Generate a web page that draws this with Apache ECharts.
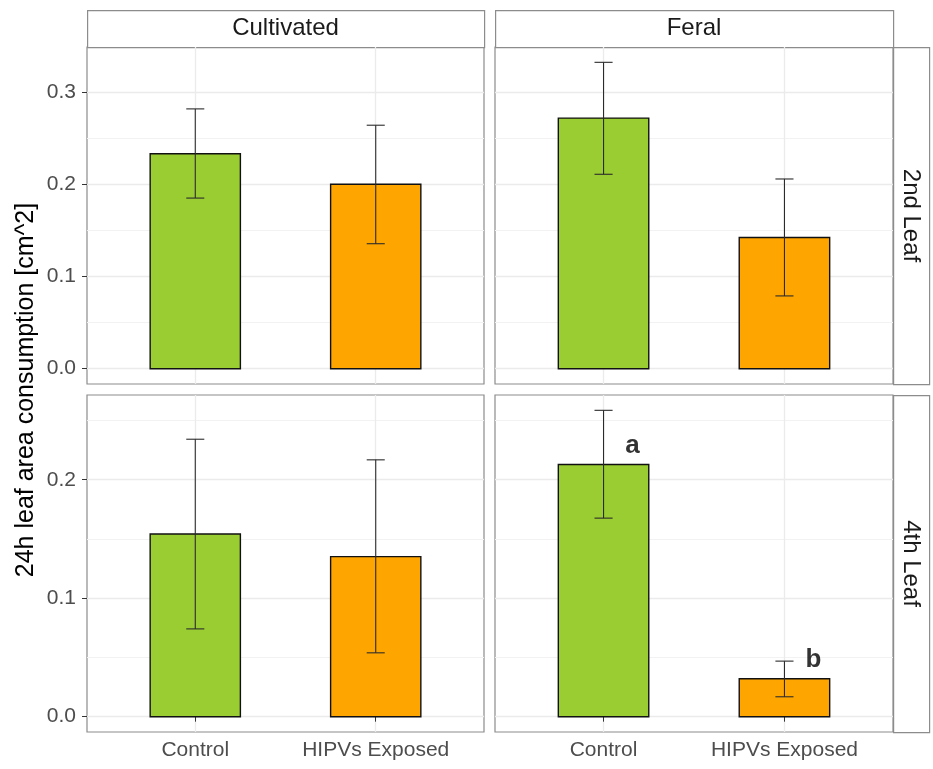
<!DOCTYPE html>
<html>
<head>
<meta charset="utf-8">
<script src="https://cdn.jsdelivr.net/npm/echarts@6/dist/echarts.min.js"></script>
<style>
  html, body { margin: 0; padding: 0; background: #ffffff; }
  #chart { width: 933px; height: 769px; }
</style>
</head>
<body>
<div id="chart"></div>
<script>
// Treatments along the x axis of every panel
const categories = ['Control', 'HIPVs Exposed'];
const origins = ['Cultivated', 'Feral'];
const leaves = ['2nd Leaf', '4th Leaf'];
const yTitle = '24h leaf area consumption [cm^2]';

// Mean consumption and error bar limits per panel (cm^2)
const meanCult2 = [0.233, 0.200];
const lowCult2 = [0.185, 0.1355];
const highCult2 = [0.2817, 0.264];

const meanFeral2 = [0.2717, 0.1423];
const lowFeral2 = [0.2108, 0.0789];
const highFeral2 = [0.3322, 0.2057];

const meanCult4 = [0.1542, 0.1351];
const lowCult4 = [0.0741, 0.0539];
const highCult4 = [0.2342, 0.2168];

const meanFeral4 = [0.2129, 0.032];
const lowFeral4 = [0.1676, 0.0168];
const highFeral4 = [0.2586, 0.0469];

// Significance letters in the Feral / 4th Leaf panel
const letters = ['a', 'b'];
const letterY = [0.229, 0.048];

const majorTicks = [0, 0.1, 0.2, 0.3];
const minorTicks = [0.05, 0.15, 0.25];

const barColors = ['#9acd32', '#ffa500'];
const FONT = '"Liberation Sans", Arial, Helvetica, sans-serif';

// Panels in row-major order
const panels = [
  { mean: meanCult2, low: lowCult2, high: highCult2, col: 0, row: 0 },
  { mean: meanFeral2, low: lowFeral2, high: highFeral2, col: 1, row: 0 },
  { mean: meanCult4, low: lowCult4, high: highCult4, col: 0, row: 1 },
  { mean: meanFeral4, low: lowFeral4, high: highFeral4, col: 1, row: 1 }
];

// Shared y range per row: 0 .. max upper limit, padded 5% on each side
function rowRange(row) {
  let mx = 0;
  panels.filter(p => p.row === row).forEach(p => p.high.forEach(v => { mx = Math.max(mx, v); }));
  const pad = mx * 0.05;
  return [-pad, mx + pad];
}
const ranges = [rowRange(0), rowRange(1)];

// Panel geometry
const colLeft = [87, 495];
const colWidth = [397, 398];
const rowTop = [47, 395];
const rowHeight = [337, 337];

const grids = [], xAxes = [], yAxes = [], series = [];

panels.forEach((p, i) => {
  grids.push({
    left: colLeft[p.col], top: rowTop[p.row],
    width: colWidth[p.col], height: rowHeight[p.row],
    show: true, borderColor: '#8c8c8c', borderWidth: 1.2,
    backgroundColor: 'transparent', containLabel: false
  });
  const bottomRow = p.row === 1;
  xAxes.push({
    type: 'value', gridIndex: i, min: 0.4, max: 2.6,
    axisLine: { show: false },
    axisTick: {
      show: bottomRow, customValues: [1, 2], length: 5,
      lineStyle: { color: '#333333', width: 1 }
    },
    axisLabel: {
      show: bottomRow, customValues: [1, 2], margin: 8,
      formatter: v => categories[Math.round(v) - 1],
      color: '#4d4d4d', fontSize: 21, fontFamily: FONT
    },
    splitLine: { show: true, lineStyle: { color: '#ebebeb', width: 1.3 } }
  });
  const [ymin, ymax] = ranges[p.row];
  const leftCol = p.col === 0;
  // major grid + labels
  yAxes.push({
    type: 'value', gridIndex: i, min: ymin, max: ymax,
    axisLine: { show: false },
    axisTick: {
      show: leftCol, customValues: majorTicks, length: 5,
      lineStyle: { color: '#333333', width: 1 }
    },
    axisLabel: {
      show: leftCol, customValues: majorTicks, margin: 11,
      formatter: v => v.toFixed(1),
      color: '#4d4d4d', fontSize: 21, fontFamily: FONT
    },
    splitLine: { show: true, lineStyle: { color: '#ebebeb', width: 1.3 } }
  });
  // minor grid
  yAxes.push({
    type: 'value', gridIndex: i, min: ymin, max: ymax,
    axisLine: { show: false },
    axisTick: { show: false, customValues: minorTicks },
    axisLabel: { show: false, customValues: minorTicks },
    splitLine: { show: true, lineStyle: { color: '#f2f2f2', width: 1 } }
  });

  // bars
  series.push({
    type: 'custom', xAxisIndex: i, yAxisIndex: 2 * i, z: 3,
    data: p.mean.map((m, k) => [k + 1, m]),
    renderItem: function (params, api) {
      const x = api.value(0), y = api.value(1);
      const a = api.coord([x - 0.25, y]);
      const b = api.coord([x + 0.25, 0]);
      return {
        type: 'rect',
        shape: { x: a[0], y: a[1], width: b[0] - a[0], height: b[1] - a[1] },
        style: { fill: barColors[params.dataIndex], stroke: '#111111', lineWidth: 1.4 }
      };
    }
  });
  // error bars
  series.push({
    type: 'custom', xAxisIndex: i, yAxisIndex: 2 * i, z: 4,
    data: p.mean.map((m, k) => [k + 1, p.low[k], p.high[k]]),
    renderItem: function (params, api) {
      const x = api.value(0);
      const lo = api.coord([x, api.value(1)]);
      const hi = api.coord([x, api.value(2)]);
      const capL = api.coord([x - 0.05, api.value(2)])[0];
      const capR = api.coord([x + 0.05, api.value(2)])[0];
      const st = { stroke: '#2b2b2b', lineWidth: 1.1 };
      return {
        type: 'group',
        children: [
          { type: 'line', shape: { x1: lo[0], y1: lo[1], x2: hi[0], y2: hi[1] }, style: st },
          { type: 'line', shape: { x1: capL, y1: hi[1], x2: capR, y2: hi[1] }, style: st },
          { type: 'line', shape: { x1: capL, y1: lo[1], x2: capR, y2: lo[1] }, style: st }
        ]
      };
    }
  });
});

// letters on the Feral / 4th Leaf panel
series.push({
  type: 'scatter', xAxisIndex: 3, yAxisIndex: 6, z: 5,
  symbolSize: 0, silent: true,
  data: letters.map((t, k) => ({ value: [k + 1.16, letterY[k]], name: t })),
  label: {
    show: true, position: 'inside', formatter: d => d.name,
    color: '#000000', textBorderWidth: 0, fontSize: 26, fontWeight: 'bold', fontFamily: FONT
  }
});

// facet strips and the y-axis title
const graphics = [];
origins.forEach((name, c) => {
  graphics.push({
    type: 'rect', left: colLeft[c], top: 10,
    shape: { width: colWidth[c], height: 37 },
    style: { fill: '#ffffff', stroke: '#8c8c8c', lineWidth: 1.2 }
  });
  graphics.push({
    type: 'text', x: colLeft[c] + colWidth[c] / 2, y: 28.5,
    style: { text: name, fill: '#1a1a1a', font: '24px ' + FONT, align: 'center', verticalAlign: 'middle' }
  });
});
leaves.forEach((name, r) => {
  graphics.push({
    type: 'rect', left: 893, top: rowTop[r],
    shape: { width: 36, height: rowHeight[r] },
    style: { fill: '#ffffff', stroke: '#8c8c8c', lineWidth: 1.2 }
  });
  graphics.push({
    type: 'text', x: 911, y: rowTop[r] + rowHeight[r] / 2, rotation: -Math.PI / 2,
    style: { text: name, fill: '#1a1a1a', font: '24px ' + FONT, align: 'center', verticalAlign: 'middle' }
  });
});
graphics.push({
  type: 'text', x: 26, y: 390, rotation: Math.PI / 2,
  style: { text: yTitle, fill: '#000000', font: '25px ' + FONT, align: 'center', verticalAlign: 'middle' }
});

const chart = echarts.init(document.getElementById('chart'), null, { renderer: 'canvas' });
chart.setOption({
  animation: false,
  backgroundColor: '#ffffff',
  grid: grids,
  xAxis: xAxes,
  yAxis: yAxes,
  series: series,
  graphic: graphics
});
</script>
</body>
</html>
